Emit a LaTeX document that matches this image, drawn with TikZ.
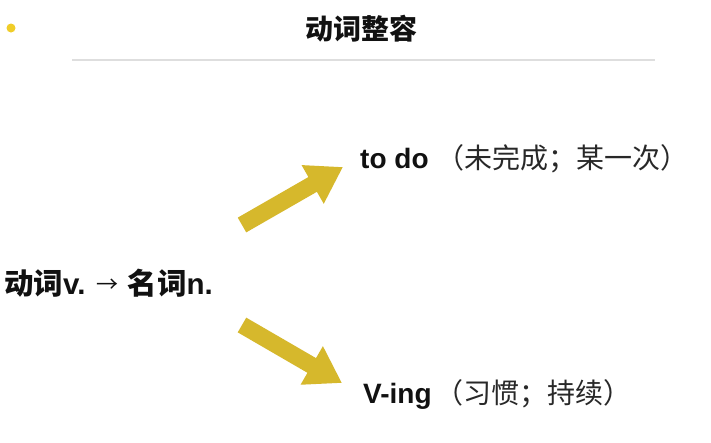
\documentclass[tikz,border=0pt]{standalone}
\usepackage{fontspec}
\setmainfont{Liberation Sans}
\newfontfamily\cjk{Noto Sans CJK SC}
\usetikzlibrary{arrows.meta}
\definecolor{arrowgold}{RGB}{214,184,44}
\definecolor{dotyellow}{RGB}{240,205,40}
\definecolor{rulegray}{RGB}{222,222,222}
\definecolor{txt}{RGB}{17,17,17}
\definecolor{txtlight}{RGB}{40,40,40}
\begin{document}
\begin{tikzpicture}[x=1pt,y=-1pt,
  yarrow/.style={draw=arrowgold, line width=17pt, -{Triangle[width=42pt,length=35pt]}},
  label/.style={inner sep=0pt, anchor=base west, text=txt, font=\fontsize{28}{32}\selectfont},
  titletext/.style={inner sep=0pt, anchor=base, text=txt, font=\fontsize{28}{32}\selectfont\cjk\bfseries}]
\fill[white] (0,0) rectangle (711,442);
\useasboundingbox (0,0) rectangle (711,442);
\fill[dotyellow] (11,28) circle (4.5);
\node[titletext] (title) at (361.5,39) {动词整容};
\coordinate (ruleL) at (72,60);
\coordinate (ruleR) at (655,60);
\draw[rulegray, line width=2pt] (ruleL) -- (ruleR);
\node[label, font=\fontsize{29.5}{34}\selectfont] (verb) at (4,294) {\bfseries{\cjk 动词}v.\hspace{11pt}\raisebox{1.5pt}{\cjk\mdseries\fontsize{22}{26}\selectfont →}\hspace{9pt}{\cjk 名词}n.};
\node[label] (todo) at (360,168) {\bfseries to do \mdseries\color{txtlight}\cjk （未完成；某一次）};
\node[label] (ving) at (363,403) {\bfseries V-ing\hspace{4pt}\mdseries\color{txtlight}\cjk （习惯；持续）};
\coordinate (utail) at (242,225);
\coordinate (utip) at (343,167);
\coordinate (dtail) at (242,325);
\coordinate (dtip) at (342,383);
\draw[yarrow] (utail) -- (utip);
\draw[yarrow] (dtail) -- (dtip);
\end{tikzpicture}
\end{document}
